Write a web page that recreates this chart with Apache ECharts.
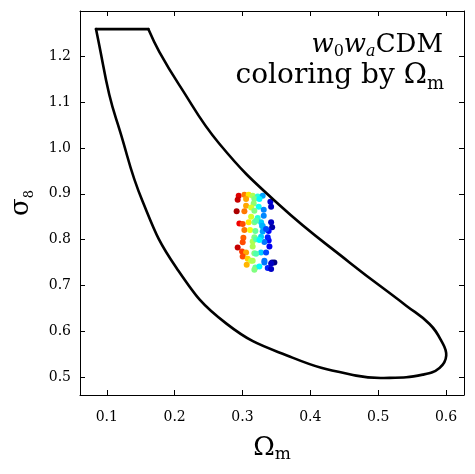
<!DOCTYPE html>
<html>
<head>
<meta charset="utf-8">
<script src="https://cdn.jsdelivr.net/npm/echarts@6/dist/echarts.min.js"></script>
<style>html,body{margin:0;padding:0;background:#fff;}#c{width:475px;height:474px;}</style>
</head>
<body>
<div id="c"></div>
<script>
// Contour: straight top edge, then the curved part (upper branch -> tip -> lower branch)
const edgeOmega = [0.0841,0.1612];
const edgeSigma = [1.2600,1.2600];
const curveOmega = [0.1612,0.1774,0.2069,0.2659,0.3544,0.4577,0.5413,0.5757,0.5929,0.6003,0.5904,0.5658,0.5167,0.4676,0.3736,0.2763,0.2025,0.1524,0.1184,0.1037,0.0889,0.0841];
const curveSigma = [1.2600,1.2103,1.1376,1.0094,0.8755,0.7502,0.6557,0.6157,0.5793,0.5465,0.5197,0.5050,0.4980,0.5028,0.5421,0.6164,0.7386,0.8849,1.0421,1.1164,1.2249,1.2600];

// Sample points
const pointsOmega = [0.2944,0.3028,0.3091,0.3150,0.3224,0.3298,0.2929,0.3053,0.3175,0.3249,0.3411,0.3053,0.3165,0.3127,0.3239,0.3422,0.2914,0.3028,0.3175,0.3313,0.3127,0.3224,0.3313,0.2954,0.3003,0.3091,0.3175,0.3274,0.3422,0.3298,0.3437,0.3028,0.3112,0.3190,0.3298,0.3386,0.3013,0.3175,0.3274,0.3386,0.3003,0.3150,0.3323,0.2929,0.3150,0.3397,0.2994,0.3053,0.3274,0.3175,0.3348,0.3003,0.3077,0.3127,0.3323,0.3437,0.3062,0.3190,0.3249,0.3372,0.3422,0.3175,0.3201,0.3289,0.3348,0.3201,0.3249,0.3372,0.3201,0.3470,0.3422,0.3323,0.3150];
const pointsSigma = [0.896,0.898,0.898,0.896,0.894,0.896,0.887,0.889,0.889,0.889,0.883,0.874,0.879,0.870,0.872,0.872,0.862,0.862,0.863,0.865,0.850,0.847,0.852,0.835,0.834,0.838,0.838,0.838,0.838,0.830,0.827,0.821,0.821,0.819,0.818,0.819,0.804,0.805,0.806,0.798,0.794,0.796,0.795,0.783,0.785,0.785,0.774,0.772,0.772,0.770,0.772,0.763,0.758,0.754,0.754,0.750,0.745,0.739,0.741,0.738,0.736,0.734,0.841,0.830,0.823,0.801,0.799,0.805,0.769,0.750,0.748,0.750,0.754];

const xTicks = [0.1,0.2,0.3,0.4,0.5,0.6];
const yTicks = [0.5,0.6,0.7,0.8,0.9,1.0,1.1,1.2];

const jetReversed = ['#800000','#ff0000','#ff8000','#ffff00','#80ff80','#00ffff','#0080ff','#0000ff','#000080'];

const serif = 'DejaVu Serif';
const edgeData = edgeOmega.map((v,i)=>[v, edgeSigma[i]]);
const curveData = curveOmega.map((v,i)=>[v, curveSigma[i]]);
const pointData = pointsOmega.map((v,i)=>[v, pointsSigma[i]]);

const chart = echarts.init(document.getElementById('c'), null, {renderer:'canvas'});
const axisCommon = {
  type:'value', scale:true,
  axisLine:{show:true, onZero:false, lineStyle:{color:'#000', width:1}},
  splitLine:{show:false}
};

// smooth contour drawn through the axes' scales (api.coord)
function renderContour(params, api) {
  if (params.dataIndex !== 0) return null;
  const pts = curveData.map(d => api.coord(d));
  return {
    type:'polyline', silent:true,
    shape:{points:pts, smooth:0.45},
    style:{stroke:'#000', lineWidth:2.6, fill:null, lineJoin:'round', lineCap:'round'}
  };
}

chart.setOption({
  animation:false,
  backgroundColor:'#fff',
  grid:{left:80, right:11, top:11, bottom:79},
  xAxis:[
    Object.assign({}, axisCommon, {
      min:0.0605, max:0.6265, position:'bottom',
      axisTick:{show:true, inside:true, length:5, customValues:xTicks, lineStyle:{color:'#000'}},
      axisLabel:{show:true, customValues:xTicks, formatter:v=>v.toFixed(1), fontFamily:serif, fontSize:14, color:'#000', margin:15},
      name:'{a|Ω}{b|m}', nameLocation:'middle', nameGap:38,
      nameTextStyle:{rich:{a:{fontFamily:serif, fontSize:26, color:'#000', lineHeight:30}, b:{fontFamily:serif, fontSize:17, color:'#000', lineHeight:20, verticalAlign:'bottom'}}}
    }),
    Object.assign({}, axisCommon, {
      min:0.0605, max:0.6265, position:'top',
      axisTick:{show:true, inside:true, length:5, customValues:xTicks, lineStyle:{color:'#000'}},
      axisLabel:{show:false}
    })
  ],
  yAxis:[
    Object.assign({}, axisCommon, {
      min:0.4605, max:1.2995, position:'left',
      axisTick:{show:true, inside:true, length:5, customValues:yTicks, lineStyle:{color:'#000'}},
      axisLabel:{show:true, customValues:yTicks, formatter:v=>v.toFixed(1), fontFamily:serif, fontSize:14, color:'#000', margin:9},
      name:'{a|σ}{b|8}', nameLocation:'middle', nameGap:44, nameRotate:90,
      nameTextStyle:{rich:{a:{fontFamily:serif, fontSize:26, color:'#000', lineHeight:30}, b:{fontFamily:serif, fontSize:13, color:'#000', lineHeight:20, verticalAlign:'bottom'}}}
    }),
    Object.assign({}, axisCommon, {
      min:0.4605, max:1.2995, position:'right',
      axisTick:{show:true, inside:true, length:5, customValues:yTicks, lineStyle:{color:'#000'}},
      axisLabel:{show:false}
    })
  ],
  visualMap:{type:'continuous', show:false, dimension:0, seriesIndex:2, min:0.289, max:0.346, inRange:{color:jetReversed}},
  series:[
    {type:'line', xAxisIndex:0, yAxisIndex:0, data:edgeData, showSymbol:false, symbol:'none', smooth:false,
     lineStyle:{color:'#000', width:2.6, cap:'round', join:'round'}, z:3, silent:true},
    {type:'custom', xAxisIndex:0, yAxisIndex:0, coordinateSystem:'cartesian2d', data:curveData,
     encode:{x:0, y:1}, renderItem:renderContour, z:3, silent:true},
    {type:'scatter', xAxisIndex:0, yAxisIndex:0, data:pointData, symbol:'circle', symbolSize:6, z:2, itemStyle:{opacity:1}}
  ],
  graphic:[
    {type:'text', x:443, y:30, style:{text:'{i|w}{s|0}{i|w}{si|a}{r|CDM}', align:'right', verticalAlign:'top',
      rich:{i:{fontFamily:serif, fontStyle:'italic', fontSize:26, lineHeight:30, fill:'#000'},
            s:{fontFamily:serif, fontSize:16, lineHeight:21, verticalAlign:'bottom', fill:'#000'},
            si:{fontFamily:serif, fontStyle:'italic', fontSize:16, lineHeight:21, verticalAlign:'bottom', fill:'#000'},
            r:{fontFamily:serif, fontSize:26, lineHeight:30, fill:'#000'}}}},
    {type:'text', x:444, y:59, style:{text:'{r|coloring by Ω}{s|m}', align:'right', verticalAlign:'top',
      rich:{r:{fontFamily:serif, fontSize:28, lineHeight:34, fill:'#000'},
            s:{fontFamily:serif, fontSize:18, lineHeight:23, verticalAlign:'bottom', fill:'#000'}}}}
  ]
});
</script>
</body>
</html>
